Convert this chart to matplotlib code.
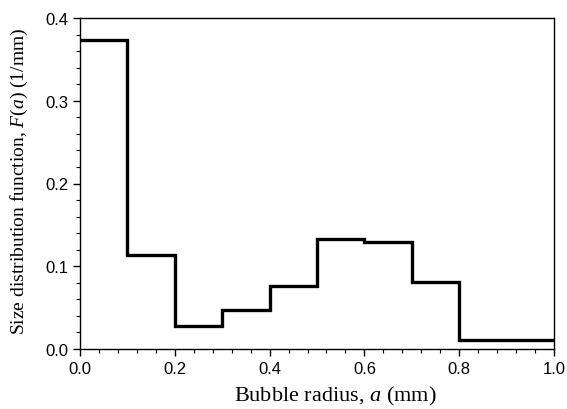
import matplotlib.pyplot as plt
import numpy as np
from matplotlib.ticker import MultipleLocator

plt.rcParams['mathtext.fontset'] = 'custom'
plt.rcParams['mathtext.it'] = 'Liberation Serif:italic'
plt.rcParams['mathtext.rm'] = 'Liberation Serif'

# bin edges (mm) and size distribution values (1/mm)
edges = np.array([0.0, 0.1, 0.2, 0.3, 0.4, 0.5, 0.6, 0.7, 0.8, 0.9, 1.0])
F = np.array([0.374, 0.113, 0.028, 0.047, 0.076, 0.133, 0.129, 0.081, 0.011, 0.011])
xticks = [0.0, 0.2, 0.4, 0.6, 0.8, 1.0]
yticks = [0.0, 0.1, 0.2, 0.3, 0.4]

fig = plt.figure(figsize=(5.67, 4.10), dpi=100)
ax = fig.add_axes([80/567, 60/410, 474/567, 331/410])

ax.stairs(F, edges, color='black', linewidth=2.4, baseline=None)

ax.set_xlim(0, 1.0)
ax.set_ylim(0, 0.4)
ax.xaxis.set_minor_locator(MultipleLocator(0.04))
ax.yaxis.set_minor_locator(MultipleLocator(0.02))
ax.set_xticks(xticks)
ax.set_xticklabels([f'{v:.1f}' for v in xticks], family='Liberation Sans', fontsize=12)
ax.set_yticks(yticks)
ax.set_yticklabels([f'{v:.1f}' for v in yticks], family='Liberation Sans', fontsize=12)
ax.tick_params(which='major', direction='out', length=5, width=1, top=False, right=False)
ax.tick_params(which='minor', direction='out', length=3, width=0.8, top=False, right=False)
for s in ax.spines.values():
    s.set_linewidth(1.0)

ax.set_xlabel('Bubble radius, $a$ (mm)', family='Liberation Serif', fontsize=16)
ax.xaxis.set_label_coords(0.5 + 18/474, -0.105)
ax.set_ylabel('Size distribution function, $F(a)$ (1/mm)', family='Liberation Serif', fontsize=14)
ax.yaxis.set_label_coords(-0.105, 0.5 + 3/331)

fig.savefig('out.png', dpi=100)
